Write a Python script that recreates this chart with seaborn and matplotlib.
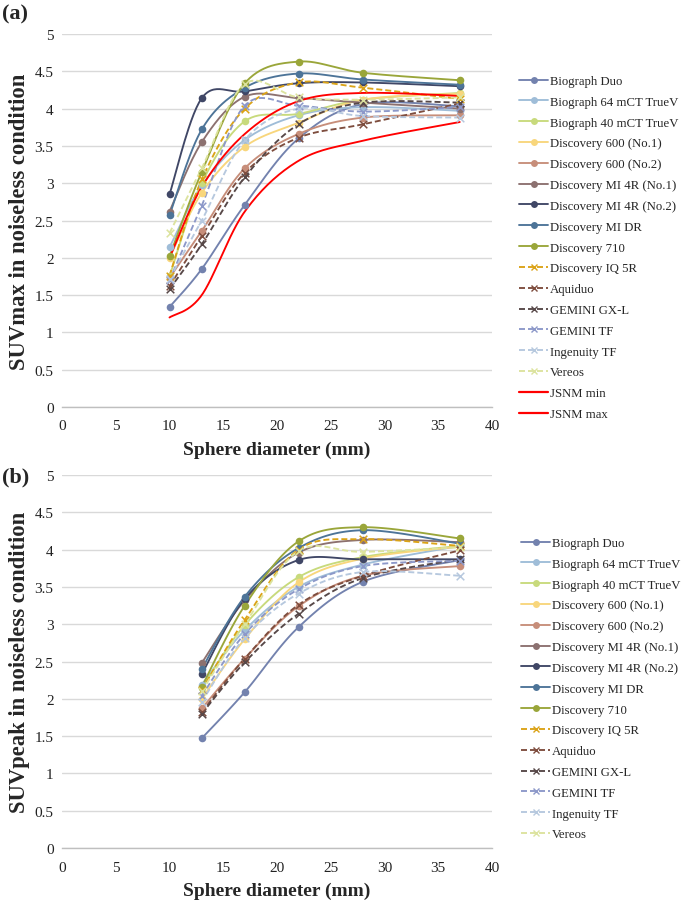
import numpy as np
import pandas as pd
import matplotlib
matplotlib.use("Agg")
import matplotlib.pyplot as plt
from matplotlib.lines import Line2D
import seaborn as sns

sns.set_theme(style="white")
plt.rcParams['font.family'] = ['Liberation Serif', 'DejaVu Serif']

# ---------------- data ----------------
scanners = ["Biograph Duo", "Biograph 64 mCT TrueV", "Biograph 40 mCT TrueV",
            "Discovery 600 (No.1)", "Discovery 600 (No.2)", "Discovery MI 4R (No.1)",
            "Discovery MI 4R (No.2)", "Discovery MI DR", "Discovery 710",
            "Discovery IQ 5R", "Aquiduo", "GEMINI GX-L", "GEMINI TF",
            "Ingenuity TF", "Vereos"]
jsnm_names = ["JSNM min", "JSNM max"]

sizes_a = [10, 13, 17, 22, 28, 37]
suvmax = {
    "Biograph Duo":           [1.34, 1.85, 2.71, 3.60, 4.06, 4.03],
    "Biograph 64 mCT TrueV":  [2.14, 2.97, 3.58, 3.91, 4.02, 3.97],
    "Biograph 40 mCT TrueV":  [1.75, 3.00, 3.83, 3.93, 4.12, 4.21],
    "Discovery 600 (No.1)":   [2.00, 2.87, 3.49, 3.81, 4.12, 4.20],
    "Discovery 600 (No.2)":   [1.73, 2.36, 3.20, 3.66, 3.88, 3.91],
    "Discovery MI 4R (No.1)": [2.62, 3.55, 4.16, 4.14, 4.08, 4.00],
    "Discovery MI 4R (No.2)": [2.85, 4.14, 4.23, 4.34, 4.35, 4.30],
    "Discovery MI DR":        [2.57, 3.72, 4.28, 4.47, 4.39, 4.32],
    "Discovery 710":          [2.02, 3.15, 4.34, 4.63, 4.48, 4.38],
    "Discovery IQ 5R":        [1.76, 3.05, 4.00, 4.35, 4.28, 4.13],
    "Aquiduo":                [1.62, 2.29, 3.14, 3.61, 3.79, 4.07],
    "GEMINI GX-L":            [1.58, 2.18, 3.08, 3.79, 4.08, 4.08],
    "GEMINI TF":              [1.70, 2.70, 4.04, 4.04, 3.96, 4.02],
    "Ingenuity TF":           [1.72, 2.50, 3.58, 4.00, 3.90, 3.88],
    "Vereos":                 [2.33, 3.20, 4.33, 4.15, 4.12, 4.15],
}
jsnm_min = [1.20, 1.50, 2.62, 3.30, 3.57, 3.82]
jsnm_max = [2.00, 2.95, 3.66, 4.10, 4.21, 4.17]

sizes_b = [13, 17, 22, 28, 37]
suvpeak = {
    "Biograph Duo":           [1.47, 2.09, 2.96, 3.57, 3.86],
    "Biograph 64 mCT TrueV":  [2.19, 2.92, 3.50, 3.80, 4.05],
    "Biograph 40 mCT TrueV":  [2.14, 2.99, 3.63, 3.90, 4.05],
    "Discovery 600 (No.1)":   [2.00, 2.80, 3.56, 3.88, 4.04],
    "Discovery 600 (No.2)":   [1.87, 2.54, 3.24, 3.65, 3.78],
    "Discovery MI 4R (No.1)": [2.48, 3.32, 3.96, 4.13, 4.10],
    "Discovery MI 4R (No.2)": [2.33, 3.34, 3.86, 3.87, 3.87],
    "Discovery MI DR":        [2.40, 3.37, 4.02, 4.26, 4.08],
    "Discovery 710":          [2.16, 3.25, 4.11, 4.30, 4.15],
    "Discovery IQ 5R":        [2.12, 3.06, 4.00, 4.14, 4.05],
    "Aquiduo":                [1.82, 2.54, 3.26, 3.65, 3.99],
    "GEMINI GX-L":            [1.80, 2.49, 3.14, 3.62, 3.87],
    "GEMINI TF":              [2.04, 2.87, 3.47, 3.78, 3.85],
    "Ingenuity TF":           [1.96, 2.82, 3.41, 3.70, 3.65],
    "Vereos":                 [2.10, 3.00, 3.98, 3.97, 4.03],
}

x_ticks = [0, 5, 10, 15, 20, 25, 30, 35, 40]
y_ticks = [0, 0.5, 1, 1.5, 2, 2.5, 3, 3.5, 4, 4.5, 5]
y_tick_labels = ["0", "0.5", "1", "1.5", "2", "2.5", "3", "3.5", "4", "4.5", "5"]

# ---------------- styles ----------------
colors = {
    "Biograph Duo": "#7382AE",
    "Biograph 64 mCT TrueV": "#9FBDD8",
    "Biograph 40 mCT TrueV": "#C8DA7C",
    "Discovery 600 (No.1)": "#F8D67C",
    "Discovery 600 (No.2)": "#C78E7A",
    "Discovery MI 4R (No.1)": "#8C7170",
    "Discovery MI 4R (No.2)": "#404766",
    "Discovery MI DR": "#4D7498",
    "Discovery 710": "#9AA63A",
    "Discovery IQ 5R": "#DBA317",
    "Aquiduo": "#7E4D3E",
    "GEMINI GX-L": "#574848",
    "GEMINI TF": "#8C98C9",
    "Ingenuity TF": "#B6C8DE",
    "Vereos": "#DCE39E",
    "JSNM min": "#FF0000",
    "JSNM max": "#FF0000",
}
dashed = {"Discovery IQ 5R", "Aquiduo", "GEMINI GX-L", "GEMINI TF", "Ingenuity TF", "Vereos"}
DASH = (0, (3.2, 1.6))

XPX, YPX = 10.75, 74.6  # pixels per data unit (for Excel-like smoothing)


def smooth(xs, ys, n=30):
    """Excel-like smoothed line: cubic Bezier through the points (screen space)."""
    P = np.column_stack([np.asarray(xs, float) * XPX, np.asarray(ys, float) * YPX])
    out = [P[0]]
    m = len(P)
    for i in range(m - 1):
        p0 = P[i - 1] if i > 0 else P[i]
        p1, p2 = P[i], P[i + 1]
        p3 = P[i + 2] if i + 2 < m else P[i + 1]
        c1 = p1 + (p2 - p0) / 6.0
        c2 = p2 - (p3 - p1) / 6.0
        t = np.linspace(0, 1, n)[1:, None]
        seg = ((1 - t) ** 3) * p1 + 3 * ((1 - t) ** 2) * t * c1 + 3 * (1 - t) * t * t * c2 + t ** 3 * p2
        out.extend(seg)
    out = np.array(out)
    return out[:, 0] / XPX, out[:, 1] / YPX


def draw_series(ax, name, xs, ys, marker=True):
    c = colors[name]
    sx, sy = smooth(xs, ys)
    ls = DASH if name in dashed else "-"
    df = pd.DataFrame({"x": sx, "y": sy})
    sns.lineplot(data=df, x="x", y="y", ax=ax, color=c, linewidth=1.35,
                 linestyle=ls, sort=False, estimator=None, legend=False, zorder=3)
    if marker:
        dp = pd.DataFrame({"x": xs, "y": ys})
        if name in dashed:
            sns.scatterplot(data=dp, x="x", y="y", ax=ax, marker="x", color=c,
                            s=30, linewidth=1.1, legend=False, zorder=4)
        else:
            sns.scatterplot(data=dp, x="x", y="y", ax=ax, marker="o", color=c,
                            s=30, edgecolor=c, linewidth=0, legend=False, zorder=4)


def legend_handle(name, marker=True):
    c = colors[name]
    if name in dashed:
        return Line2D([], [], color=c, linestyle=DASH, linewidth=1.35,
                      marker="x", markersize=5, markeredgewidth=1.0)
    if not marker:
        return Line2D([], [], color=c, linewidth=1.6)
    return Line2D([], [], color=c, linewidth=1.35, marker="o",
                  markersize=5, markeredgewidth=0)


def style_axes(ax, ylabel):
    ax.set_xlim(0, 40)
    ax.set_ylim(0, 5)
    ax.set_xticks(x_ticks)
    ax.set_yticks(y_ticks)
    ax.set_yticklabels(y_tick_labels)
    ax.tick_params(axis="both", length=0, labelsize=11, colors="#222222")
    ax.tick_params(axis="x", pad=9)
    ax.tick_params(axis="y", pad=6)
    ax.grid(axis="y", color="#D9D9D9", linewidth=1.0)
    ax.grid(axis="x", visible=False)
    for s in ("top", "right", "left"):
        ax.spines[s].set_visible(False)
    ax.spines["bottom"].set_color("#BFBFBF")
    ax.spines["bottom"].set_linewidth(1.0)
    ax.set_xlabel("Sphere diameter (mm)", fontsize=14, fontweight="bold", labelpad=6)
    ax.set_ylabel(ylabel, fontsize=16.3, fontweight="bold", labelpad=3)
    ax.set_axisbelow(True)


fig = plt.figure(figsize=(6.85, 9.03), dpi=100)
W, H = 685, 903

LEG = dict(loc="upper left", frameon=False, fontsize=9.2, handlelength=2.3,
           handletextpad=0.15, labelspacing=0.69, borderpad=0, borderaxespad=0)

# ---------------- panel (a) ----------------
axa = fig.add_axes([62 / W, 1 - 408 / H, 430 / W, 373 / H])
for name in scanners:
    draw_series(axa, name, sizes_a, suvmax[name])
draw_series(axa, "JSNM min", sizes_a, jsnm_min, marker=False)
draw_series(axa, "JSNM max", sizes_a, jsnm_max, marker=False)
style_axes(axa, "SUVmax in noiseless condition")

handles_a = [legend_handle(n) for n in scanners] + [legend_handle(n, False) for n in jsnm_names]
fig.legend(handles_a, scanners + jsnm_names, bbox_to_anchor=(519 / W, 1 - 76 / H), **LEG)

# ---------------- panel (b) ----------------
axb = fig.add_axes([62 / W, 1 - 849 / H, 430 / W, 373 / H])
for name in scanners:
    draw_series(axb, name, sizes_b, suvpeak[name])
style_axes(axb, "SUVpeak in noiseless condition")

fig.legend([legend_handle(n) for n in scanners], scanners,
           bbox_to_anchor=(521 / W, 1 - 538 / H), **LEG)

fig.text(2 / W, 1 - 4 / H, "(a)", fontsize=16, fontweight="bold", va="top", ha="left")
fig.text(2 / W, 1 - 467 / H, "(b)", fontsize=16, fontweight="bold", va="top", ha="left")

fig.savefig("out.png", dpi=100)
